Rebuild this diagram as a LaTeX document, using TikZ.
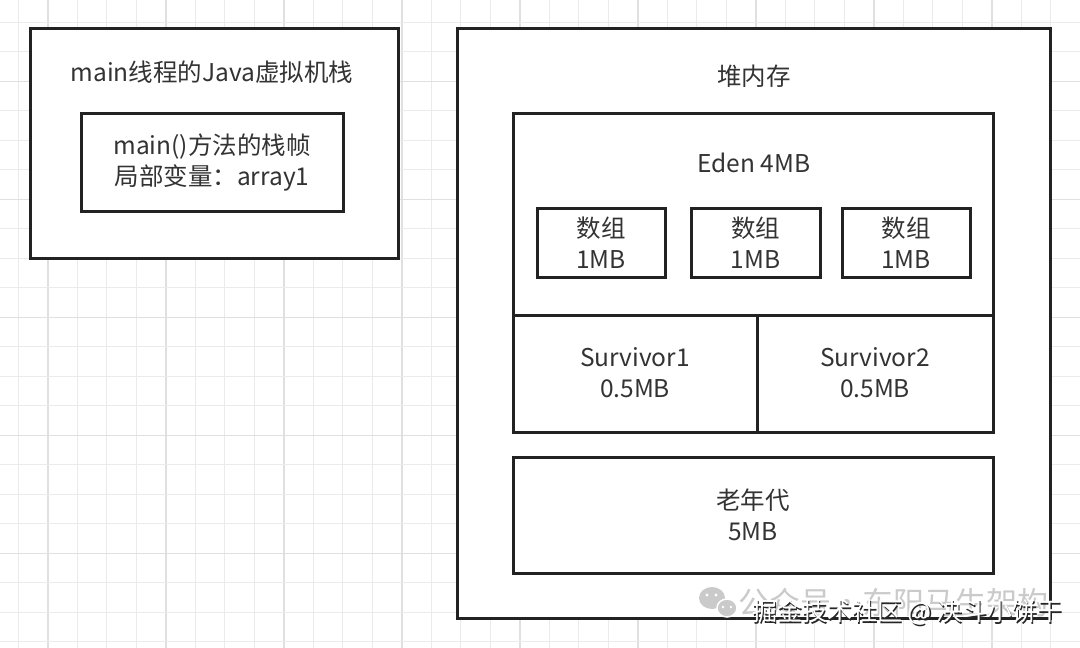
\documentclass[tikz,border=0pt]{standalone}
\usepackage{fontspec}
\setmainfont{Noto Sans CJK SC}
\definecolor{ink}{HTML}{222222}
\definecolor{txt}{HTML}{333333}
\definecolor{gridc}{HTML}{EBEBEB}
\definecolor{gridm}{HTML}{E0E0E0}
\definecolor{wm}{HTML}{CACACA}
\begin{document}
\begin{tikzpicture}[x=1pt,y=-1pt,
  box/.style={draw=ink,line width=3pt,fill=white,inner sep=0pt,outer sep=0pt},
  lbl/.style={text=txt,font=\fontsize{24.5}{30.5}\selectfont,align=center,inner sep=0pt},
  gridline/.style={draw=gridc,line width=1.2pt},
  gridmajor/.style={draw=gridm,line width=1.6pt}]
\useasboundingbox (0,0) rectangle (1080,648);
\fill[white] (0,0) rectangle (1080,648);
% background grid
\foreach \i in {0,...,36}{
  \pgfmathtruncatemacro{\m}{mod(\i,4)}
  \ifnum\m=1 \draw[gridmajor] ({18.3+29.5*\i},0) -- ++(0,648);
  \else \draw[gridline] ({18.3+29.5*\i},0) -- ++(0,648); \fi
}
\foreach \j in {0,...,21}{
  \pgfmathtruncatemacro{\m}{mod(\j,4)}
  \ifnum\m=2 \draw[gridmajor] (0,{22.3+29.5*\j}) -- ++(1080,0);
  \else \draw[gridline] (0,{22.3+29.5*\j}) -- ++(1080,0); \fi
}
% left: JVM stack
\node[box,minimum width=368,minimum height=230] (stack) at (214,143) {};
\node[lbl] (stacktitle) at (212,72) {main线程的Java虚拟机栈};
\node[box,minimum width=262,minimum height=98] (frame) at (212,162) {};
\node[lbl] (frametext) at (212,162.5) {main()方法的栈帧\\局部变量：array1};
% right: heap
\node[box,minimum width=593,minimum height=590] (heap) at (753.5,323) {};
\node[lbl] (heaptitle) at (754,76) {堆内存};
\node[box,minimum width=480,minimum height=202] (eden) at (753,214) {};
\node[lbl] (edentitle) at (754,163) {Eden 4MB};
\node[box,minimum width=128,minimum height=69] (arr1) at (601,242.5) {};
\node[box,minimum width=129,minimum height=69] (arr2) at (755.5,242.5) {};
\node[box,minimum width=128,minimum height=69] (arr3) at (906,242.5) {};
\node[lbl] (arr1t) at (arr1) {数组\\1MB};
\node[lbl] (arr2t) at (arr2) {数组\\1MB};
\node[lbl] (arr3t) at (arr3) {数组\\1MB};
\node[box,minimum width=244,minimum height=117] (sur1) at (635,373.5) {};
\node[box,minimum width=236,minimum height=117] (sur2) at (875,373.5) {};
\node[lbl] (sur1t) at (635,372.5) {Survivor1\\0.5MB};
\node[lbl] (sur2t) at (875,372.5) {Survivor2\\0.5MB};
\node[box,minimum width=480,minimum height=116] (old) at (753,515) {};
\node[lbl] (oldt) at (753,515) {老年代\\5MB};
% watermarks
\fill[wm] (712,598) ellipse (13 and 11);
\fill[wm,draw=white,line width=1.5pt] (727,608) ellipse (10 and 9);
\fill[white] (707,595) circle (1.6) (716,595) circle (1.6) (723,607) circle (1.4) (731,607) circle (1.4);
\node[text=wm,font=\fontsize{31}{31}\selectfont,anchor=west,inner sep=0pt] (wm1) at (738,603) {公众号·东阳马生架构};
\node[text=black!85,font=\fontsize{25}{25}\selectfont,anchor=west,inner sep=0pt] (wm2s) at (753.5,614.5) {掘金技术社区 @ 决斗小饼干};
\node[text=white,font=\fontsize{25}{25}\selectfont,anchor=west,inner sep=0pt] (wm2) at (752,612.5) {掘金技术社区 @ 决斗小饼干};
\end{tikzpicture}
\end{document}
